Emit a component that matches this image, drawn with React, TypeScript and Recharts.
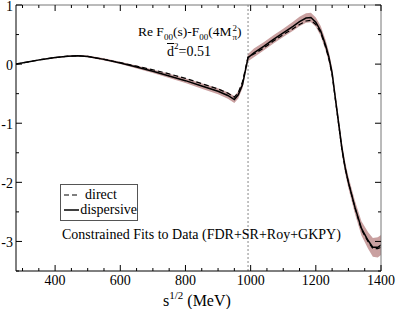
import { Area, ComposedChart, Line, ReferenceLine, XAxis, YAxis } from "recharts";

const serif = "Liberation Serif, Times New Roman, serif";

// s^(1/2) in MeV
const energy = [
  280, 320, 360, 400, 440, 470, 500, 550, 600, 650, 700, 750, 800, 850, 900, 930, 950, 962, 975, 992,
  1010, 1040, 1070, 1100, 1130, 1150, 1170, 1185, 1200, 1215, 1230, 1240, 1250, 1260, 1270, 1280, 1290,
  1300, 1320, 1340, 1360, 1375, 1390, 1400,
];
const dispersive = [
  0, 0.04, 0.08, 0.11, 0.135, 0.14, 0.13, 0.08, 0.02, -0.05, -0.12, -0.2, -0.28, -0.37, -0.46, -0.53, -0.6,
  -0.52, -0.35, 0.11, 0.19, 0.3, 0.42, 0.53, 0.64, 0.72, 0.78, 0.79, 0.71, 0.56, 0.32, 0.12, -0.15, -0.58,
  -1.0, -1.42, -1.75, -2.0, -2.42, -2.78, -2.98, -3.1, -3.1, -3.06,
];
const direct = [
  0, 0.04, 0.08, 0.11, 0.135, 0.14, 0.13, 0.08, 0.025, -0.035, -0.095, -0.165, -0.24, -0.33, -0.42, -0.49,
  -0.56, -0.48, -0.3, 0.12, 0.17, 0.27, 0.39, 0.5, 0.6, 0.67, 0.73, 0.74, 0.67, 0.53, 0.29, 0.09, -0.18,
  -0.6, -1.02, -1.44, -1.76, -2.0, -2.43, -2.8, -3.0, -3.12, -3.12, -3.1,
];
const bandHalf = [
  0, 0.005, 0.008, 0.01, 0.012, 0.013, 0.015, 0.018, 0.02, 0.025, 0.03, 0.035, 0.04, 0.045, 0.05, 0.055,
  0.06, 0.06, 0.06, 0.06, 0.075, 0.07, 0.07, 0.07, 0.075, 0.08, 0.08, 0.08, 0.08, 0.085, 0.09, 0.09, 0.09,
  0.09, 0.1, 0.1, 0.1, 0.1, 0.11, 0.12, 0.14, 0.16, 0.17, 0.17,
];

const xTicks = [
  300, 350, 400, 450, 500, 550, 600, 650, 700, 750, 800, 850, 900, 950, 1000, 1050, 1100, 1150, 1200, 1250,
  1300, 1350, 1400,
];
const yTicks = [-3.5, -3, -2.5, -2, -1.5, -1, -0.5, 0, 0.5, 1];

const data = energy.map((e, i) => ({
  e,
  disp: dispersive[i],
  dir: direct[i],
  band: [dispersive[i] - bandHalf[i], dispersive[i] + bandHalf[i]],
}));

function BottomTick({ x, y, payload }: any) {
  const v = payload.value;
  const major = v % 200 === 0;
  return (
    <g>
      <line x1={x} x2={x} y1={y} y2={y - (major ? 6 : 3)} stroke="#000" />
      {major && (
        <text x={x} y={y + 14} textAnchor="middle" fontSize={14} fontFamily={serif} fill="#000">
          {v}
        </text>
      )}
    </g>
  );
}

function TopTick({ x, y, payload }: any) {
  const major = payload.value % 200 === 0;
  return <line x1={x} x2={x} y1={y} y2={y + (major ? 6 : 3)} stroke="#000" />;
}

function LeftTick({ x, y, payload }: any) {
  const v = payload.value;
  const major = Number.isInteger(v);
  return (
    <g>
      <line x1={x} x2={x + (major ? 6 : 3)} y1={y} y2={y} stroke="#000" />
      {major && (
        <text x={x - 3} y={y + 6} textAnchor="end" fontSize={14} fontFamily={serif} fill="#000">
          {v}
        </text>
      )}
    </g>
  );
}

function RightTick({ x, y, payload }: any) {
  const major = Number.isInteger(payload.value);
  return <line x1={x} x2={x - (major ? 6 : 3)} y1={y} y2={y} stroke="#000" />;
}

const small = { fontSize: 9, position: "relative" as const };

export default function App() {
  return (
    <div style={{ position: "absolute", left: 0, top: 0, width: 398, height: 309, fontFamily: serif, color: "#000" }}>
      <ComposedChart width={398} height={309} data={data} margin={{ top: 4, right: 16, bottom: 37, left: 15 }}>
        <XAxis
          dataKey="e"
          type="number"
          domain={[280, 1400]}
          allowDataOverflow
          ticks={xTicks}
          interval={0}
          height={1}
          tickSize={0}
          tickMargin={0}
          tickLine={false}
          tick={<BottomTick />}
          axisLine={{ stroke: "#000" }}
        />
        <XAxis
          xAxisId="top"
          orientation="top"
          dataKey="e"
          type="number"
          domain={[280, 1400]}
          allowDataOverflow
          ticks={xTicks}
          interval={0}
          height={1}
          tickSize={0}
          tickMargin={0}
          tickLine={false}
          tick={<TopTick />}
          axisLine={{ stroke: "#777" }}
        />
        <YAxis
          type="number"
          domain={[-3.5, 1]}
          allowDataOverflow
          ticks={yTicks}
          interval={0}
          width={1}
          tickSize={0}
          tickMargin={0}
          tickLine={false}
          tick={<LeftTick />}
          axisLine={{ stroke: "#000" }}
        />
        <YAxis
          yAxisId="right"
          orientation="right"
          type="number"
          domain={[-3.5, 1]}
          allowDataOverflow
          ticks={yTicks}
          interval={0}
          width={1}
          tickSize={0}
          tickMargin={0}
          tickLine={false}
          tick={<RightTick />}
          axisLine={{ stroke: "#777" }}
        />
        <ReferenceLine x={992} stroke="#888" strokeDasharray="2 2" />
        <Area
          dataKey="band"
          type="linear"
          stroke="none"
          fill="#bf8f8f"
          fillOpacity={0.85}
          isAnimationActive={false}
        />
        <Line dataKey="dir" type="linear" stroke="#000" strokeWidth={1.2} strokeDasharray="5 3" dot={false} isAnimationActive={false} />
        <Line dataKey="disp" type="linear" stroke="#000" strokeWidth={1.5} dot={false} isAnimationActive={false} />
      </ComposedChart>

      <div style={{ position: "absolute", left: 138, top: 24, fontSize: 13.5, lineHeight: "14px", whiteSpace: "nowrap" }}>
        Re F<span style={{ ...small, top: 4 }}>00</span>(s)-F<span style={{ ...small, top: 4 }}>00</span>(4M
        <span
          style={{
            display: "inline-flex",
            flexDirection: "column",
            fontSize: 9,
            lineHeight: "9px",
            verticalAlign: "middle",
            textAlign: "center",
            marginLeft: 1,
          }}
        >
          <span>2</span>
          <span>π</span>
        </span>
        )
      </div>
      <div style={{ position: "absolute", left: 167, top: 45, fontSize: 14, lineHeight: "14px", whiteSpace: "nowrap" }}>
        <span style={{ textDecoration: "overline" }}>d</span>
        <span style={{ ...small, top: -7 }}>2</span>=0.51
      </div>

      <div
        style={{
          position: "absolute",
          left: 60,
          top: 184,
          width: 78,
          height: 37,
          border: "1px solid #555",
          background: "#fff",
          fontSize: 14,
          lineHeight: "14px",
          paddingTop: 3,
          boxSizing: "border-box",
        }}
      >
        <div style={{ display: "flex", alignItems: "center", height: 14 }}>
          <svg width={22} height={10} style={{ marginLeft: 2 }}>
            <line x1={1} x2={16} y1={5} y2={5} stroke="#000" strokeWidth={1.2} strokeDasharray="5 3" />
          </svg>
          <span>direct</span>
        </div>
        <div style={{ display: "flex", alignItems: "center", height: 15 }}>
          <svg width={22} height={10} style={{ marginLeft: 2 }}>
            <line x1={1} x2={16} y1={5} y2={5} stroke="#000" strokeWidth={1.5} />
          </svg>
          <span>dispersive</span>
        </div>
      </div>

      <div style={{ position: "absolute", left: 62, top: 227, fontSize: 14, lineHeight: "15px", whiteSpace: "nowrap" }}>
        Constrained Fits to Data (FDR+SR+Roy+GKPY)
      </div>

      <div style={{ position: "absolute", left: 163, top: 293, fontSize: 16, lineHeight: "16px", whiteSpace: "nowrap" }}>
        s<span style={{ fontSize: 11, position: "relative", top: -7 }}>1/2</span> (MeV)
      </div>
    </div>
  );
}
